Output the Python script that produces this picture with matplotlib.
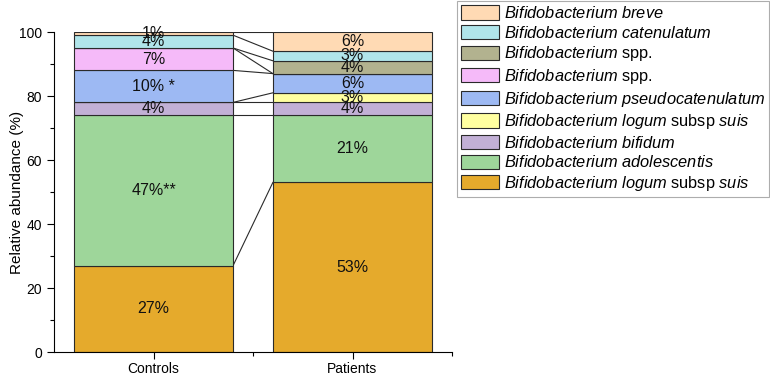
import matplotlib
matplotlib.use("Agg")
import matplotlib.pyplot as plt
import numpy as np
from matplotlib.ticker import MultipleLocator, FixedLocator

plt.rcParams['font.family'] = ['Liberation Sans', 'DejaVu Sans']
plt.rcParams['mathtext.fontset'] = 'custom'
plt.rcParams['mathtext.rm'] = 'Liberation Sans'
plt.rcParams['mathtext.it'] = 'Liberation Sans:italic'

groups = ["Controls", "Patients"]
# series bottom to top
series_names = [
    r"$\it{Bifidobacterium}$ $\it{logum}$ subsp $\it{suis}$",
    r"$\it{Bifidobacterium}$ $\it{adolescentis}$",
    r"$\it{Bifidobacterium}$ $\it{bifidum}$",
    r"$\it{Bifidobacterium}$ $\it{logum}$ subsp $\it{suis}$",
    r"$\it{Bifidobacterium}$ $\it{pseudocatenulatum}$",
    r"$\it{Bifidobacterium}$ spp.",
    r"$\it{Bifidobacterium}$ spp.",
    r"$\it{Bifidobacterium}$ $\it{catenulatum}$",
    r"$\it{Bifidobacterium}$ $\it{breve}$",
]
controls = [27, 47, 4, 0, 10, 7, 0, 4, 1]
patients = [53, 21, 4, 3, 6, 0, 4, 3, 6]
controls_labels = ["27%", "47%**", "4%", "", "10% *", "7%", "", "4%", "1%"]
patients_labels = ["53%", "21%", "4%", "3%", "6%", "", "4%", "3%", "6%"]
colors = ["#E5AA2C", "#9ED69A", "#C2B0D6", "#FFFFA0", "#9DB9F3",
          "#F5BAF9", "#B2B28F", "#B0E5EA", "#FFDAB4"]

fig = plt.figure(figsize=(7.7, 3.76), dpi=100)
ax = fig.add_axes([54/770, 24/376, 398/770, 320/376])

x = np.array([1, 2])
w = 0.8
data = np.array([controls, patients], dtype=float).T
labels = [controls_labels, patients_labels]
bottoms = np.zeros(2)
handles = []
for i, (vals, col, name) in enumerate(zip(data, colors, series_names)):
    b = ax.bar(x, vals, w, bottom=bottoms, color=col, edgecolor="#2a2a2a",
               linewidth=0.8, label=name, zorder=2)
    handles.append(b)
    for j in range(2):
        lab = labels[j][i]
        if lab:
            ax.text(x[j], bottoms[j] + vals[j] / 2, lab, ha="center",
                    va="center", fontsize=11.5, color="#111111", zorder=3)
    tops = bottoms + vals
    ax.plot([x[0] + w/2, x[1] - w/2], [tops[0], tops[1]], color="#2a2a2a",
            linewidth=0.8, zorder=1)
    bottoms = tops

ax.set_xlim(0.5, 2.5)
ax.set_ylim(0, 100)
ax.set_xticks(x)
ax.set_xticklabels(groups)
ax.xaxis.set_minor_locator(FixedLocator([1.5, 2.5]))
ax.yaxis.set_major_locator(MultipleLocator(20))
ax.yaxis.set_minor_locator(MultipleLocator(10))
ax.tick_params(axis="both", which="major", direction="out", length=5, width=0.8, labelsize=10)
ax.tick_params(axis="x", which="major", pad=2, labelsize=10)
ax.tick_params(axis="both", which="minor", direction="out", length=3, width=0.8)
ax.set_ylabel("Relative abundance (%)", fontsize=11)
ax.yaxis.set_label_coords(-30/398, 0.5)
for s in ["top", "right"]:
    ax.spines[s].set_visible(False)

leg = fig.legend(handles[::-1], series_names[::-1], loc="upper left",
                 bbox_to_anchor=(457/770, 1 - 1/376), fontsize=11.8,
                 frameon=True, fancybox=False, handlelength=2.3,
                 handleheight=0.95, labelspacing=0.22, handletextpad=0.3,
                 borderpad=0.25, borderaxespad=0)
leg.get_frame().set_edgecolor("#999999")
leg.get_frame().set_linewidth(0.8)

fig.savefig("out.png", dpi=100)
